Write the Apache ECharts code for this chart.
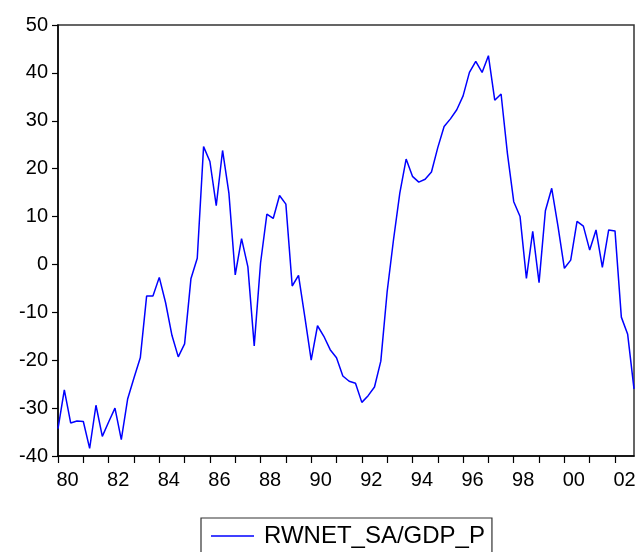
<!DOCTYPE html>
<html>
<head>
<meta charset="utf-8">
<script src="https://cdn.jsdelivr.net/npm/echarts@6/dist/echarts.min.js"></script>
<style>html,body{margin:0;padding:0;background:#fff}#c{width:639px;height:552px}</style>
</head>
<body>
<div id="c"></div>
<script>
// quarterly categories 1980Q1 .. 2002Q4
var startYear = 1980;
var endYear = 2002;
var quarters = [];
for (var y = startYear; y <= endYear; y++) {
  for (var q = 1; q <= 4; q++) quarters.push(y + 'Q' + q);
}
var seriesName = 'RWNET_SA/GDP_P';
var values = [
  -34.3, -26.2, -33.1, -32.7, -32.8, -38.4, -29.4, -35.9,
  -32.9, -30.0, -36.6, -28.1, -23.7, -19.5, -6.6, -6.6,
  -2.7, -8.0, -14.8, -19.3, -16.6, -3.0, 1.3, 24.6,
  21.5, 12.3, 23.8, 14.9, -2.2, 5.4, -0.5, -17.0,
  0.3, 10.5, 9.6, 14.4, 12.6, -4.5, -2.3, -11.0,
  -20.0, -12.8, -15.0, -17.8, -19.5, -23.3, -24.4, -24.8,
  -28.8, -27.4, -25.6, -20.2, -5.7, 5.1, 14.9, 22.0,
  18.4, 17.2, 17.8, 19.3, 24.4, 28.8, 30.4, 32.3,
  35.2, 40.1, 42.4, 40.1, 43.6, 34.3, 35.6, 23.2,
  13.1, 10.0, -2.9, 6.9, -3.8, 11.2, 15.9, 7.9,
  -0.8, 0.9, 9.0, 8.0, 3.0, 7.2, -0.6, 7.2,
  7.0, -11.0, -14.6, -26.0
];
var yTicks = [-40, -30, -20, -10, 0, 10, 20, 30, 40, 50];

var chart = echarts.init(document.getElementById('c'), null, {renderer: 'canvas'});
var font = 'Liberation Sans, Arial, sans-serif';
chart.setOption({
  animation: false,
  backgroundColor: '#fff',
  grid: {left: 58, right: 5, top: 25, bottom: 96, show: true, borderColor: '#333', borderWidth: 1.5, containLabel: false},
  xAxis: {
    type: 'category',
    data: quarters,
    boundaryGap: false,
    axisLine: {show: true, onZero: false, lineStyle: {color: '#000', width: 1.5}},
    axisTick: {show: true, inside: false, length: 7, lineStyle: {color: '#000', width: 1.2},
      interval: function (i, v) { return v.slice(4) === 'Q1'; }},
    axisLabel: {
      show: true, color: '#000', fontSize: 20, fontFamily: font, margin: 14,
      padding: [0, 0, 0, 19],
      interval: function (i, v) { return v.slice(4) === 'Q1' && (parseInt(v.slice(0, 4), 10) % 2 === 0); },
      formatter: function (v) { return v.slice(2, 4); }
    },
    splitLine: {show: false}
  },
  yAxis: {
    type: 'value',
    min: yTicks[0], max: yTicks[yTicks.length - 1], interval: 10,
    axisLine: {show: true, onZero: false, lineStyle: {color: '#000', width: 1.5}},
    axisTick: {show: true, inside: false, length: 6, lineStyle: {color: '#000', width: 1.2}},
    axisLabel: {color: '#000', fontSize: 20, fontFamily: font, margin: 10},
    splitLine: {show: false}
  },
  legend: {
    show: true,
    left: 201, top: 518,
    orient: 'horizontal',
    borderColor: '#333', borderWidth: 1.2,
    padding: [6, 7, 20, 10],
    itemWidth: 43, itemHeight: 1.5,
    icon: 'rect',
    textStyle: {color: '#000', fontSize: 24, fontFamily: font, padding: [0, 0, 0, 5]},
    data: [seriesName]
  },
  series: [{
    name: seriesName,
    type: 'line',
    data: values,
    symbol: 'none',
    showSymbol: false,
    lineStyle: {color: '#0000ff', width: 1.5},
    itemStyle: {color: '#0000ff'}
  }]
});
</script>
</body>
</html>
